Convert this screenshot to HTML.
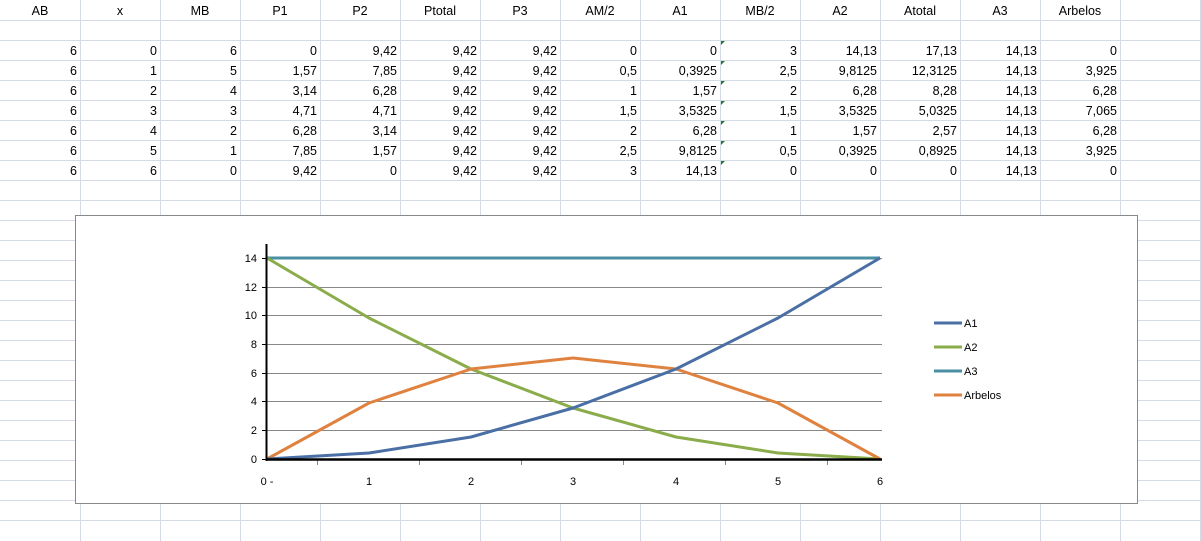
<!DOCTYPE html>
<html><head><meta charset="utf-8"><style>
html,body{margin:0;padding:0;background:#fff;}
svg{display:block;font-family:"Liberation Sans",sans-serif;}
</style></head><body>
<svg width="1201" height="541" viewBox="0 0 1201 541" xmlns="http://www.w3.org/2000/svg">
<g stroke="#d4dae6" stroke-width="1">
<line x1="0" y1="20.5" x2="1201" y2="20.5"/><line x1="0" y1="40.5" x2="1201" y2="40.5"/><line x1="0" y1="60.5" x2="1201" y2="60.5"/><line x1="0" y1="80.5" x2="1201" y2="80.5"/><line x1="0" y1="100.5" x2="1201" y2="100.5"/><line x1="0" y1="120.5" x2="1201" y2="120.5"/><line x1="0" y1="140.5" x2="1201" y2="140.5"/><line x1="0" y1="160.5" x2="1201" y2="160.5"/><line x1="0" y1="180.5" x2="1201" y2="180.5"/><line x1="0" y1="200.5" x2="1201" y2="200.5"/><line x1="0" y1="220.5" x2="1201" y2="220.5"/><line x1="0" y1="240.5" x2="1201" y2="240.5"/><line x1="0" y1="260.5" x2="1201" y2="260.5"/><line x1="0" y1="280.5" x2="1201" y2="280.5"/><line x1="0" y1="300.5" x2="1201" y2="300.5"/><line x1="0" y1="320.5" x2="1201" y2="320.5"/><line x1="0" y1="340.5" x2="1201" y2="340.5"/><line x1="0" y1="360.5" x2="1201" y2="360.5"/><line x1="0" y1="380.5" x2="1201" y2="380.5"/><line x1="0" y1="400.5" x2="1201" y2="400.5"/><line x1="0" y1="420.5" x2="1201" y2="420.5"/><line x1="0" y1="440.5" x2="1201" y2="440.5"/><line x1="0" y1="460.5" x2="1201" y2="460.5"/><line x1="0" y1="480.5" x2="1201" y2="480.5"/><line x1="0" y1="500.5" x2="1201" y2="500.5"/><line x1="0" y1="520.5" x2="1201" y2="520.5"/>
<line x1="80.5" y1="0" x2="80.5" y2="541"/><line x1="160.5" y1="0" x2="160.5" y2="541"/><line x1="240.5" y1="0" x2="240.5" y2="541"/><line x1="320.5" y1="0" x2="320.5" y2="541"/><line x1="400.5" y1="0" x2="400.5" y2="541"/><line x1="480.5" y1="0" x2="480.5" y2="541"/><line x1="560.5" y1="0" x2="560.5" y2="541"/><line x1="640.5" y1="0" x2="640.5" y2="541"/><line x1="720.5" y1="0" x2="720.5" y2="541"/><line x1="800.5" y1="0" x2="800.5" y2="541"/><line x1="880.5" y1="0" x2="880.5" y2="541"/><line x1="960.5" y1="0" x2="960.5" y2="541"/><line x1="1040.5" y1="0" x2="1040.5" y2="541"/><line x1="1120.5" y1="0" x2="1120.5" y2="541"/><line x1="1200.5" y1="0" x2="1200.5" y2="541"/>
</g>
<g font-size="12.5" fill="#000" text-anchor="middle">
<text x="40" y="15">AB</text><text x="120" y="15">x</text><text x="200" y="15">MB</text><text x="280" y="15">P1</text><text x="360" y="15">P2</text><text x="440" y="15">Ptotal</text><text x="520" y="15">P3</text><text x="600" y="15">AM/2</text><text x="680" y="15">A1</text><text x="760" y="15">MB/2</text><text x="840" y="15">A2</text><text x="920" y="15">Atotal</text><text x="1000" y="15">A3</text><text x="1080" y="15">Arbelos</text>
</g>
<g font-size="12.5" fill="#000" text-anchor="end">
<g transform="translate(0,55)"><text x="77">6</text><text x="157">0</text><text x="237">6</text><text x="317">0</text><text x="397">9,42</text><text x="477">9,42</text><text x="557">9,42</text><text x="637">0</text><text x="717">0</text><text x="797">3</text><text x="877">14,13</text><text x="957">17,13</text><text x="1037">14,13</text><text x="1117">0</text></g>
<g transform="translate(0,75)"><text x="77">6</text><text x="157">1</text><text x="237">5</text><text x="317">1,57</text><text x="397">7,85</text><text x="477">9,42</text><text x="557">9,42</text><text x="637">0,5</text><text x="717">0,3925</text><text x="797">2,5</text><text x="877">9,8125</text><text x="957">12,3125</text><text x="1037">14,13</text><text x="1117">3,925</text></g>
<g transform="translate(0,95)"><text x="77">6</text><text x="157">2</text><text x="237">4</text><text x="317">3,14</text><text x="397">6,28</text><text x="477">9,42</text><text x="557">9,42</text><text x="637">1</text><text x="717">1,57</text><text x="797">2</text><text x="877">6,28</text><text x="957">8,28</text><text x="1037">14,13</text><text x="1117">6,28</text></g>
<g transform="translate(0,115)"><text x="77">6</text><text x="157">3</text><text x="237">3</text><text x="317">4,71</text><text x="397">4,71</text><text x="477">9,42</text><text x="557">9,42</text><text x="637">1,5</text><text x="717">3,5325</text><text x="797">1,5</text><text x="877">3,5325</text><text x="957">5,0325</text><text x="1037">14,13</text><text x="1117">7,065</text></g>
<g transform="translate(0,135)"><text x="77">6</text><text x="157">4</text><text x="237">2</text><text x="317">6,28</text><text x="397">3,14</text><text x="477">9,42</text><text x="557">9,42</text><text x="637">2</text><text x="717">6,28</text><text x="797">1</text><text x="877">1,57</text><text x="957">2,57</text><text x="1037">14,13</text><text x="1117">6,28</text></g>
<g transform="translate(0,155)"><text x="77">6</text><text x="157">5</text><text x="237">1</text><text x="317">7,85</text><text x="397">1,57</text><text x="477">9,42</text><text x="557">9,42</text><text x="637">2,5</text><text x="717">9,8125</text><text x="797">0,5</text><text x="877">0,3925</text><text x="957">0,8925</text><text x="1037">14,13</text><text x="1117">3,925</text></g>
<g transform="translate(0,175)"><text x="77">6</text><text x="157">6</text><text x="237">0</text><text x="317">9,42</text><text x="397">0</text><text x="477">9,42</text><text x="557">9,42</text><text x="637">3</text><text x="717">14,13</text><text x="797">0</text><text x="877">0</text><text x="957">0</text><text x="1037">14,13</text><text x="1117">0</text></g>
</g>
<g fill="#1e7b30">
<polygon points="721,41 725,41 721,45"/><polygon points="721,61 725,61 721,65"/><polygon points="721,81 725,81 721,85"/><polygon points="721,101 725,101 721,105"/><polygon points="721,121 725,121 721,125"/><polygon points="721,141 725,141 721,145"/><polygon points="721,161 725,161 721,165"/>
</g>
<rect x="75.5" y="215.5" width="1062" height="288" fill="#fff" stroke="#888"/>
<g stroke="#888" stroke-width="1">
<line x1="267" y1="430.5" x2="882" y2="430.5"/><line x1="267" y1="401.5" x2="882" y2="401.5"/><line x1="267" y1="373.5" x2="882" y2="373.5"/><line x1="267" y1="344.5" x2="882" y2="344.5"/><line x1="267" y1="315.5" x2="882" y2="315.5"/><line x1="267" y1="287.5" x2="882" y2="287.5"/><line x1="267" y1="258.5" x2="882" y2="258.5"/>
</g>
<g stroke="#000" stroke-width="1">
<line x1="262" y1="459.5" x2="266" y2="459.5"/><line x1="262" y1="430.5" x2="266" y2="430.5"/><line x1="262" y1="401.5" x2="266" y2="401.5"/><line x1="262" y1="373.5" x2="266" y2="373.5"/><line x1="262" y1="344.5" x2="266" y2="344.5"/><line x1="262" y1="315.5" x2="266" y2="315.5"/><line x1="262" y1="287.5" x2="266" y2="287.5"/><line x1="262" y1="258.5" x2="266" y2="258.5"/>
</g>
<g stroke="#888"><line x1="317.5" y1="460" x2="317.5" y2="465"/><line x1="419.5" y1="460" x2="419.5" y2="465"/><line x1="521.5" y1="460" x2="521.5" y2="465"/><line x1="623.5" y1="460" x2="623.5" y2="465"/><line x1="725.5" y1="460" x2="725.5" y2="465"/><line x1="827.5" y1="460" x2="827.5" y2="465"/></g>
<g font-size="11" fill="#000" text-anchor="end">
<text x="257" y="463">0</text><text x="257" y="434">2</text><text x="257" y="405">4</text><text x="257" y="377">6</text><text x="257" y="348">8</text><text x="257" y="319">10</text><text x="257" y="291">12</text><text x="257" y="262">14</text>
</g>
<g font-size="11" fill="#000" text-anchor="middle">
<text x="267" y="485">0 -</text><text x="369" y="485">1</text><text x="471" y="485">2</text><text x="573" y="485">3</text><text x="676" y="485">4</text><text x="778" y="485">5</text><text x="880" y="485">6</text>
</g>
<g fill="none" stroke-width="3" stroke-linejoin="round">
<polyline stroke="#4b8fa5" points="267,258 880,258"/>
<polyline stroke="#8aac4a" points="267,258 369,318 471,369 573,408 676,437 778,453 880,459"/>
<polyline stroke="#e0823f" points="267,459 369,403 471,369 573,358 676,369 778,403 880,459"/>
<polyline stroke="#4a6fa5" points="267,459 369,453 471,437 573,408 676,369 778,318 880,258"/>
</g>
<line x1="266.5" y1="244" x2="266.5" y2="461" stroke="#000" stroke-width="2"/>
<line x1="266" y1="459.5" x2="882" y2="459.5" stroke="#000" stroke-width="2.5"/>
<g stroke-width="3">
<line x1="934" y1="323" x2="962" y2="323" stroke="#4a6fa5"/>
<line x1="934" y1="347" x2="962" y2="347" stroke="#8aac4a"/>
<line x1="934" y1="371" x2="962" y2="371" stroke="#4b8fa5"/>
<line x1="934" y1="395" x2="962" y2="395" stroke="#e0823f"/>
</g>
<g font-size="11" fill="#000">
<text x="964" y="327">A1</text><text x="964" y="351">A2</text><text x="964" y="375">A3</text><text x="964" y="399">Arbelos</text>
</g>
</svg>
</body></html>
